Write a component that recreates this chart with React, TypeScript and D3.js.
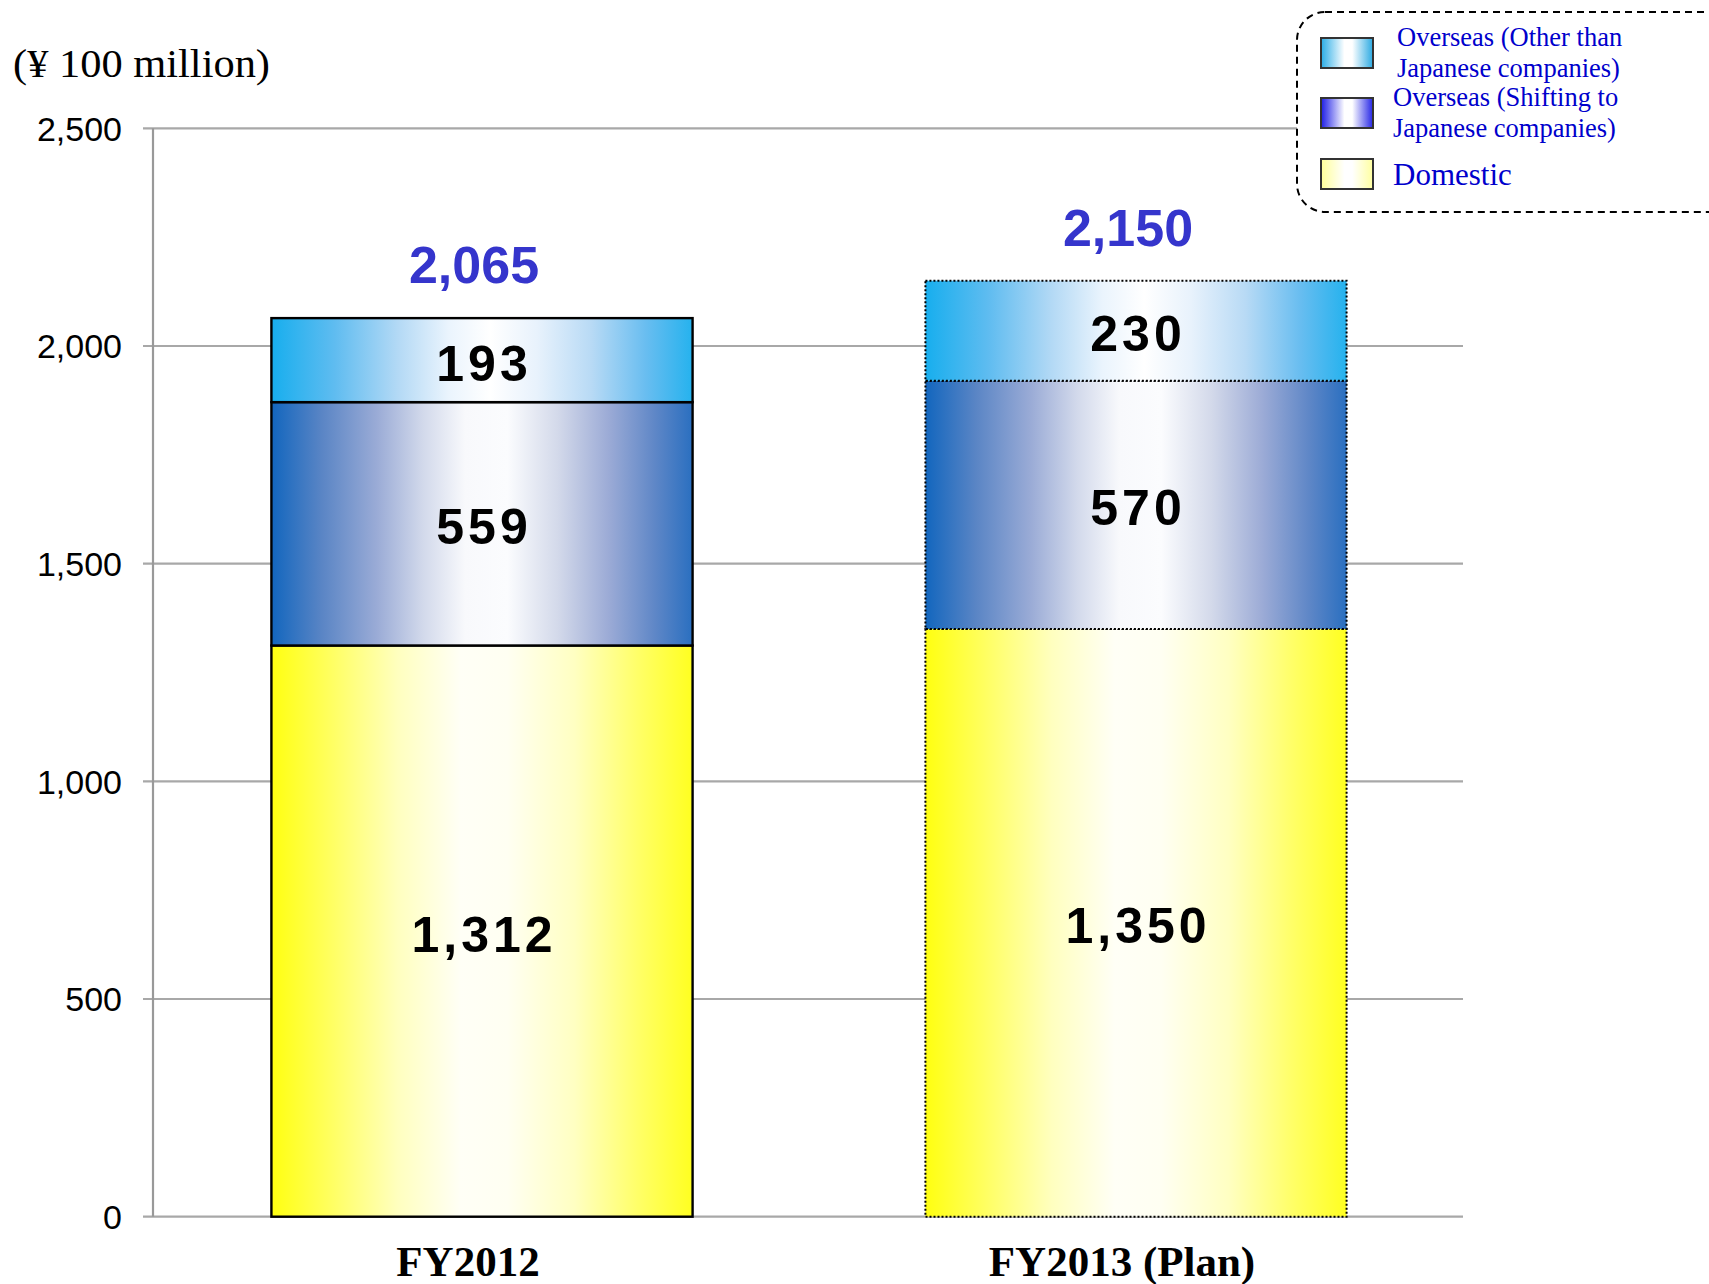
import React from "react";
import * as d3 from "d3";

// Sales by destination, ¥100 million
const categories = ["FY2012", "FY2013 (Plan)"];
const domestic = [1312, 1350];
const overseasShifting = [559, 570];
const overseasOther = [193, 230];
const totals = [2065, 2150];
const planned = [false, true];
const yTicks = [0, 500, 1000, 1500, 2000, 2500];
const seriesKeys = ["domestic", "shifting", "other"];
const legendItems = [
  { key: "other", lines: ["Overseas (Other than", "Japanese companies)"] },
  { key: "shifting", lines: ["Overseas (Shifting to", "Japanese companies)"] },
  { key: "domestic", lines: ["Domestic"] },
];

const W = 1709;
const H = 1284;

const rows = categories.map((c, i) => ({
  category: c,
  domestic: domestic[i],
  shifting: overseasShifting[i],
  other: overseasOther[i],
  total: totals[i],
  planned: planned[i],
}));

const fmt = d3.format(",");

export default function App() {
  const y = d3.scaleLinear().domain([0, 2500]).range([1216.7, 128.3]);
  const x = d3
    .scaleBand<string>()
    .domain(categories)
    .range([155, 1463])
    .paddingInner(0.356)
    .paddingOuter(0.178);
  const stack = d3.stack<any>().keys(seriesKeys)(rows);
  const fillFor: Record<string, string> = {
    domestic: "url(#gYellow)",
    shifting: "url(#gBlue)",
    other: "url(#gCyan)",
  };
  const legendFill: Record<string, string> = {
    domestic: "url(#lgYellow)",
    shifting: "url(#lgBlue)",
    other: "url(#lgCyan)",
  };
  const axisX = 153;
  const gridEnd = 1463;
  const bw = x.bandwidth();

  return (
    <svg
      width={W}
      height={H}
      style={{ position: "absolute", left: 0, top: 0, display: "block", background: "#fff" }}
    >
      <defs>
        <linearGradient id="gCyan" x1="0" x2="1" y1="0" y2="0">
          <stop offset="0" stopColor="#17aeee" />
          <stop offset="0.15" stopColor="#5fbcf0" />
          <stop offset="0.3" stopColor="#b3d9f5" />
          <stop offset="0.42" stopColor="#eaf4fd" />
          <stop offset="0.52" stopColor="#ffffff" />
          <stop offset="0.63" stopColor="#e8f2fc" />
          <stop offset="0.76" stopColor="#b8daf5" />
          <stop offset="0.89" stopColor="#68bdf0" />
          <stop offset="1" stopColor="#25b2ee" />
        </linearGradient>
        <linearGradient id="gBlue" x1="0" x2="1" y1="0" y2="0">
          <stop offset="0" stopColor="#1266be" />
          <stop offset="0.12" stopColor="#5a85c5" />
          <stop offset="0.25" stopColor="#9aabd6" />
          <stop offset="0.36" stopColor="#d2d9eb" />
          <stop offset="0.46" stopColor="#f8f9fc" />
          <stop offset="0.56" stopColor="#fbfcfe" />
          <stop offset="0.68" stopColor="#d3d9ea" />
          <stop offset="0.8" stopColor="#9cabd6" />
          <stop offset="0.91" stopColor="#5f87c7" />
          <stop offset="1" stopColor="#2a6fc0" />
        </linearGradient>
        <linearGradient id="gYellow" x1="0" x2="1" y1="0" y2="0">
          <stop offset="0" stopColor="#ffff10" />
          <stop offset="0.14" stopColor="#ffff60" />
          <stop offset="0.3" stopColor="#ffffbf" />
          <stop offset="0.45" stopColor="#fffff6" />
          <stop offset="0.56" stopColor="#fffff2" />
          <stop offset="0.72" stopColor="#ffffc2" />
          <stop offset="0.87" stopColor="#ffff68" />
          <stop offset="1" stopColor="#ffff20" />
        </linearGradient>
        <linearGradient id="lgCyan" x1="0" x2="1" y1="0" y2="0">
          <stop offset="0" stopColor="#29ace6" />
          <stop offset="0.45" stopColor="#ffffff" />
          <stop offset="0.6" stopColor="#ffffff" />
          <stop offset="1" stopColor="#2aa9e2" />
        </linearGradient>
        <linearGradient id="lgBlue" x1="0" x2="1" y1="0" y2="0">
          <stop offset="0" stopColor="#1c1ce6" />
          <stop offset="0.45" stopColor="#ffffff" />
          <stop offset="0.6" stopColor="#ffffff" />
          <stop offset="1" stopColor="#2424e6" />
        </linearGradient>
        <linearGradient id="lgYellow" x1="0" x2="1" y1="0" y2="0">
          <stop offset="0" stopColor="#ffff99" />
          <stop offset="0.45" stopColor="#ffffff" />
          <stop offset="0.6" stopColor="#ffffff" />
          <stop offset="1" stopColor="#ffffa0" />
        </linearGradient>
      </defs>

      {/* unit label */}
      <text
        x={13}
        y={77}
        fontFamily="'Liberation Serif', 'Times New Roman', serif"
        fontSize={41}
        textLength={257}
        lengthAdjust="spacingAndGlyphs"
        fill="#000"
      >
        (¥ 100 million)
      </text>

      {/* gridlines and y axis */}
      {yTicks.map((t) => (
        <g key={t}>
          <line
            x1={143}
            x2={gridEnd}
            y1={y(t)}
            y2={y(t)}
            stroke="#a8a8a8"
            strokeWidth={2.2}
          />
          <text
            x={122}
            y={y(t)}
            dy="0.36em"
            textAnchor="end"
            fontFamily="'Liberation Sans', Arial, sans-serif"
            fontSize={34}
            fill="#000"
          >
            {fmt(t)}
          </text>
        </g>
      ))}
      <line x1={axisX} x2={axisX} y1={y(2500)} y2={y(0)} stroke="#999" strokeWidth={2.2} />

      {/* stacked bars */}
      {stack.map((layer) =>
        layer.map((d, i) => {
          const row = rows[i];
          const x0 = x(row.category)!;
          const top = y(d[1]);
          const bottom = y(d[0]);
          return (
            <rect
              key={layer.key + i}
              x={x0}
              y={top}
              width={bw}
              height={bottom - top}
              fill={fillFor[layer.key]}
              stroke="#000"
              strokeWidth={row.planned ? 2 : 2.4}
              strokeDasharray={row.planned ? "2 2" : undefined}
            />
          );
        })
      )}

      {/* segment values */}
      {stack.map((layer) =>
        layer.map((d, i) => {
          const row = rows[i];
          const cx = x(row.category)! + bw / 2;
          const cy = (y(d[0]) + y(d[1])) / 2;
          return (
            <text
              key={"v" + layer.key + i}
              x={cx + 2}
              y={cy + 3}
              dy="0.35em"
              textAnchor="middle"
              fontFamily="'Liberation Sans', Arial, sans-serif"
              fontWeight="bold"
              fontSize={50}
              letterSpacing={4}
              fill="#000"
            >
              {fmt(d[1] - d[0])}
            </text>
          );
        })
      )}

      {/* totals */}
      {rows.map((row) => (
        <text
          key={"t" + row.category}
          x={x(row.category)! + bw / 2 - 8}
          y={y(row.total) - 35}
          textAnchor="middle"
          fontFamily="'Liberation Sans', Arial, sans-serif"
          fontWeight="bold"
          fontSize={52}
          fill="#3535cc"
        >
          {fmt(row.total)}
        </text>
      ))}

      {/* category labels */}
      {rows.map((row) => (
        <text
          key={"c" + row.category}
          x={x(row.category)! + bw / 2 - 14}
          y={1276}
          textAnchor="middle"
          fontFamily="'Liberation Serif', 'Times New Roman', serif"
          fontWeight="bold"
          fontSize={43}
          fill="#000"
        >
          {row.category}
        </text>
      ))}

      {/* legend */}
      <rect
        x={1297}
        y={12}
        width={440}
        height={200}
        rx={28}
        ry={28}
        fill="#fff"
        stroke="#000"
        strokeWidth={2}
        strokeDasharray="7 5"
      />
      {legendItems.map((item, i) => {
        const top = [38, 98, 159][i];
        const textBase = [46, 106, 185][i];
        const tx = i === 0 ? 1397 : 1393;
        return (
          <g key={item.key}>
            <rect
              x={1321}
              y={top}
              width={52}
              height={30}
              fill={legendFill[item.key]}
              stroke="#333"
              strokeWidth={2}
            />
            {item.lines.map((ln, j) => (
              <text
                key={j}
                x={tx}
                y={textBase + j * 31}
                fontFamily="'Liberation Serif', 'Times New Roman', serif"
                fontSize={item.lines.length === 1 ? 31 : 26.5}
                fill="#0000cc"
              >
                {ln}
              </text>
            ))}
          </g>
        );
      })}
    </svg>
  );
}
